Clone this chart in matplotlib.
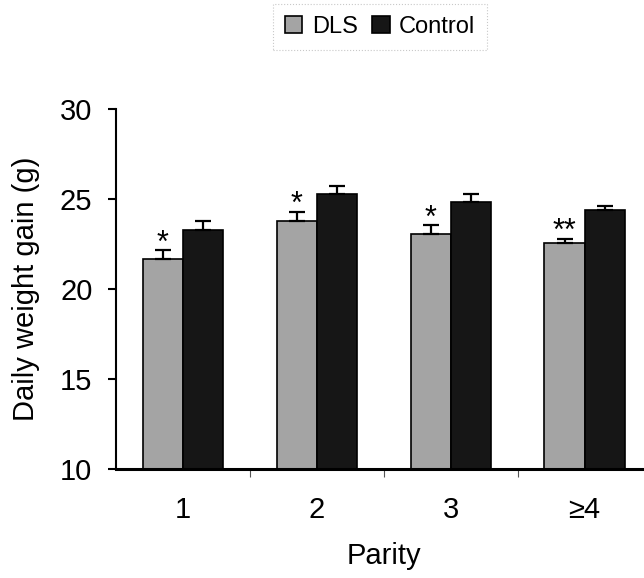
import matplotlib
matplotlib.use("Agg")
import matplotlib.pyplot as plt
import numpy as np

categories = ["1", "2", "3", "\u22654"]
dls_values = [21.65, 23.75, 23.05, 22.55]
dls_err = [0.48, 0.52, 0.47, 0.24]
ctrl_values = [23.25, 25.25, 24.8, 24.4]
ctrl_err = [0.5, 0.46, 0.45, 0.23]
dls_marks = ["*", "*", "*", "**"]
series_names = ["DLS", "Control"]

plt.rcParams['font.family'] = ['Liberation Sans', 'DejaVu Sans']

W, H = 644, 578
fig = plt.figure(figsize=(W / 100, H / 100), dpi=100)
left_px, right_px = 116, 116 + 4 * 133.9
top_px, bot_px = 109, 468.5
ax = fig.add_axes([left_px / W, 1 - bot_px / H, (right_px - left_px) / W, (bot_px - top_px) / H])

x = np.arange(len(categories))
bw = 0.3
dls_col = "#a4a4a4"
ctrl_col = "#161616"
b1 = ax.bar(x - bw / 2, dls_values, bw, color=dls_col, edgecolor="black", linewidth=1.2, label=series_names[0], zorder=2)
b2 = ax.bar(x + bw / 2, ctrl_values, bw, color=ctrl_col, edgecolor="black", linewidth=1.2, label=series_names[1], zorder=2)
zeros = np.zeros(len(categories))
ax.errorbar(x - bw / 2, dls_values, yerr=[zeros, dls_err], fmt="none", ecolor="black", elinewidth=1.6, capsize=6, capthick=1.6, zorder=3)
ax.errorbar(x + bw / 2, ctrl_values, yerr=[zeros, ctrl_err], fmt="none", ecolor="black", elinewidth=1.6, capsize=6, capthick=1.6, zorder=3)

for xi, v, e, m in zip(x - bw / 2, dls_values, dls_err, dls_marks):
    ax.annotate(m, (xi, v + e), xytext=(0, -6), textcoords="offset points", ha="center", va="bottom", fontsize=22)

ax.set_ylim(10, 30)
ax.set_xlim(-0.5, 3.5)
ax.set_yticks([10, 15, 20, 25, 30])
ax.set_xticks(x)
ax.set_xticklabels(categories)
ax.set_xticks([0.5, 1.5, 2.5], minor=True)
ax.tick_params(axis="y", direction="out", length=6, width=1.5, labelsize=21, pad=11)
ax.tick_params(axis="x", which="major", length=0, labelsize=21, pad=20)
ax.tick_params(axis="x", which="minor", direction="out", length=6, width=0.8, color="#555555")
for s in ["top", "right"]:
    ax.spines[s].set_visible(False)
ax.spines["left"].set_linewidth(1.5)
ax.spines["bottom"].set_linewidth(2.2)

ax.set_ylabel("Daily weight gain (g)", fontsize=21, labelpad=14)
ax.set_xlabel("Parity", fontsize=21, labelpad=13)

leg = fig.legend(handles=[b1, b2], labels=series_names, loc="center", bbox_to_anchor=(380 / W, 1 - 27 / H),
                 ncol=2, fontsize=17, handlelength=0.75, handleheight=0.75, handletextpad=0.4,
                 columnspacing=0.6, frameon=True, fancybox=False, borderpad=0.5, borderaxespad=0)
fr = leg.get_frame()
fr.set_edgecolor("#bbbbbb")
fr.set_linestyle(":")
fr.set_linewidth(0.8)

fig.savefig("out.png", dpi=100)
